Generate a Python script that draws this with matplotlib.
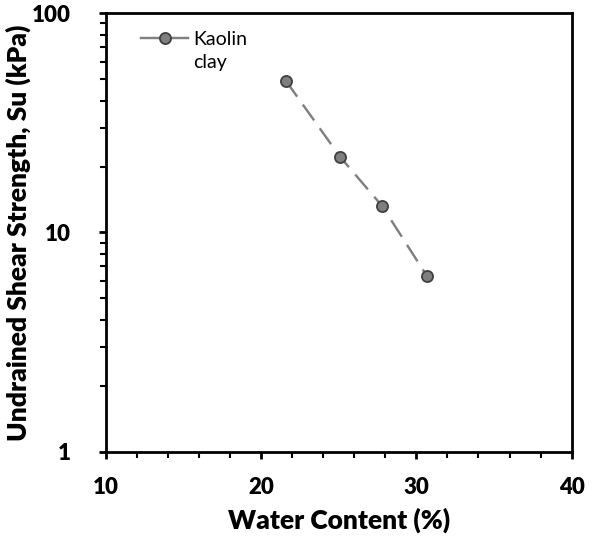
import matplotlib.pyplot as plt
from matplotlib.ticker import FixedLocator, NullFormatter, LogLocator

# data
water_content = [21.6, 25.1, 27.8, 30.7]
shear_strength = [49.2, 22.1, 13.2, 6.3]
series_label = "Kaolin"
series_label_2 = "clay"

plt.rcParams['font.family'] = ['Lato', 'DejaVu Sans']

fig = plt.figure(figsize=(5.92, 5.39), dpi=100)
ax = fig.add_axes([0.1786, 0.162, 0.787, 0.8133])

ax.plot(water_content, shear_strength, linestyle=(0, (8, 4)), color='#808080', lw=1.75,
        marker='o', markersize=8, markerfacecolor='#7f7f7f', markeredgecolor='#404040',
        markeredgewidth=1.3, label=series_label)

ax.set_yscale('log')
ax.set_xlim(10, 40)
ax.set_ylim(1, 100)
ax.set_xticks([10, 20, 30, 40])
ax.xaxis.set_minor_locator(FixedLocator([x for x in range(12, 40, 2) if x % 10]))
ax.set_yticks([1, 10, 100])
ax.set_yticklabels(['1', '10', '100'])
ax.yaxis.set_minor_locator(LogLocator(base=10, subs=range(2, 10)))
ax.yaxis.set_minor_formatter(NullFormatter())

for s in ax.spines.values():
    s.set_linewidth(2)
ax.tick_params(which='major', direction='out', length=5, width=2, labelsize=16)
ax.tick_params(axis='x', which='major', pad=13)
ax.tick_params(axis='y', which='major', pad=20)
ax.tick_params(which='minor', direction='out', length=4, width=1.5)
for lab in ax.get_xticklabels() + ax.get_yticklabels():
    lab.set_fontweight('heavy')

ax.set_xlabel('Water Content (%)', fontsize=19, fontweight='heavy', labelpad=7)
ax.set_ylabel('Undrained Shear Strength, Su (kPa)', fontsize=19, fontweight='heavy', labelpad=1)

leg = ax.legend(loc='upper left', frameon=False, fontsize=14, handlelength=2.4,
                bbox_to_anchor=(0.039, 1.0), handletextpad=0.26)
leg.legend_handles[0].set_linestyle('-')

# second line of the legend label sits under the first one
fig.canvas.draw()
tb = leg.get_texts()[0].get_window_extent()
fig.text(tb.x0 / fig.bbox.width, (tb.y0 - 23) / fig.bbox.height, series_label_2,
         fontsize=14, ha='left', va='bottom')

fig.savefig('out.png', dpi=100)
